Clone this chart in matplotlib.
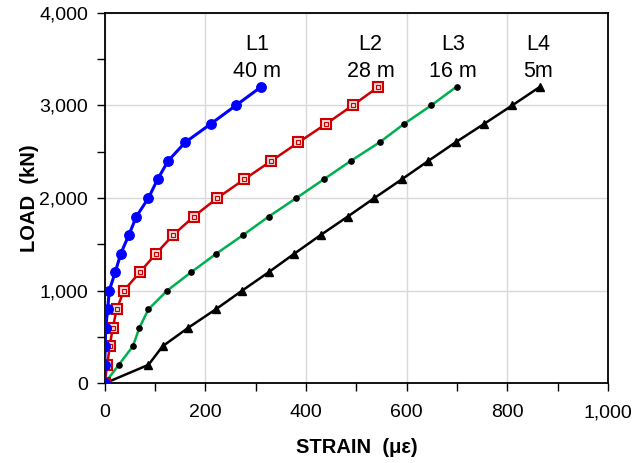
import matplotlib
matplotlib.use("Agg")
import matplotlib.pyplot as plt
from matplotlib.ticker import MultipleLocator, FuncFormatter

plt.rcParams['font.family'] = ['Liberation Sans', 'DejaVu Sans']

load = [0, 200, 400, 600, 800, 1000, 1200, 1400, 1600, 1800, 2000, 2200, 2400, 2600, 2800, 3000, 3200]
strain_L1 = [0, 0, 1, 2, 6, 9, 21, 32, 48, 63, 87, 105, 126, 160, 211, 261, 311]
strain_L2 = [0, 5, 10, 16, 24, 38, 70, 102, 136, 177, 224, 277, 331, 385, 440, 493, 544]
strain_L3 = [0, 28, 56, 69, 87, 124, 172, 222, 275, 326, 381, 435, 489, 546, 595, 649, 699]
strain_L4 = [0, 87, 115, 166, 221, 273, 326, 377, 429, 483, 536, 590, 643, 697, 754, 810, 865]

labels = [("L1", "40 m", 303), ("L2", "28 m", 528), ("L3", "16 m", 692), ("L4", "5m", 861)]

fig = plt.figure(figsize=(6.36, 4.63), dpi=100)
ax = fig.add_axes([0.1646, 0.172, 0.7914, 0.8008])

ax.plot(strain_L4, load, color='black', lw=1.8, marker='^', ms=5.5, mfc='black', mec='black', zorder=3)
ax.plot(strain_L3, load, color='#00b050', lw=1.8, marker='o', ms=3.8, mfc='black', mec='black', zorder=4)
ax.plot(strain_L2, load, color='#cc0000', lw=1.8, marker='s', ms=6.5, mfc='#f4dada', mec='#cc0000', mew=1.5, zorder=5)
ax.plot(strain_L2, load, ls='none', marker='s', ms=2.4, mfc='none', mec='#cc0000', mew=0.8, zorder=6)
ax.plot(strain_L1, load, color='#0000ff', lw=2.2, marker='o', ms=6.8, mfc='#0000ff', mec='#0000ff', zorder=7)

for l1, l2, xp in labels:
    ax.text(xp, 3660, l1, ha='center', va='center', fontsize=15.5)
    ax.text(xp, 3360, l2, ha='center', va='center', fontsize=15.5)

ax.set_xlim(0, 1000)
ax.set_ylim(0, 4000)
ax.xaxis.set_major_locator(MultipleLocator(200))
ax.xaxis.set_minor_locator(MultipleLocator(100))
ax.yaxis.set_major_locator(MultipleLocator(1000))
ax.yaxis.set_minor_locator(MultipleLocator(500))
fmt = FuncFormatter(lambda v, p: f"{int(v):,}")
ax.xaxis.set_major_formatter(fmt)
ax.yaxis.set_major_formatter(fmt)
ax.tick_params(which='both', direction='out', length=6, width=1, labelsize=14, pad=6)
ax.tick_params(axis='x', which='both', pad=9)
ax.grid(True, which='major', color='#d9d9d9', lw=1)
ax.set_axisbelow(True)
for s in ax.spines.values():
    s.set_linewidth(1.3)
    s.set_color('black')

ax.set_xlabel("STRAIN  (με)", fontsize=14.5, fontweight='bold', labelpad=12)
ax.set_ylabel("LOAD  (kN)", fontsize=14.5, fontweight='bold', labelpad=0)

fig.savefig("out.png", dpi=100)
